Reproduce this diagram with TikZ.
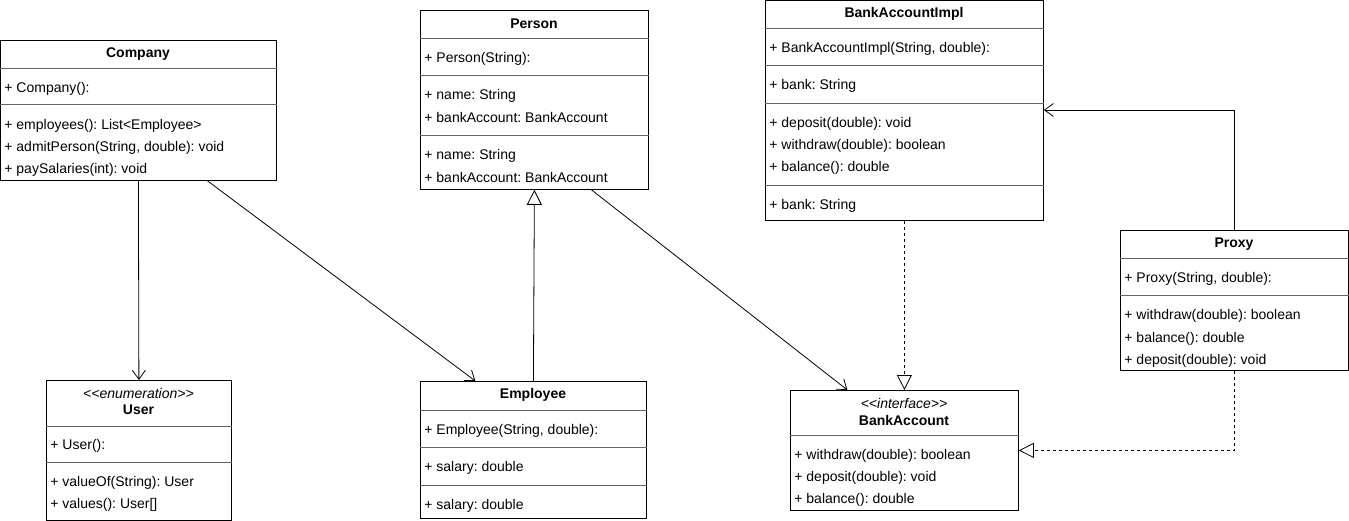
\documentclass[tikz,border=0pt]{standalone}
\usepackage{fontspec}
\setmainfont{Liberation Sans}[Ligatures=TeXOff]
\usetikzlibrary{arrows.meta,positioning}
\frenchspacing

\begin{document}
\begin{tikzpicture}[x=1pt,y=-1pt,font=\fontsize{14}{16}\selectfont,line width=0.8pt,
cls/.style={draw,anchor=north west,inner sep=0pt},
ttl/.style={font=\fontsize{14}{16}\selectfont\bfseries,inner sep=0pt,yshift=-1pt},
stereo/.style={font=\fontsize{14}{16}\selectfont\itshape,inner sep=0pt,yshift=-1pt},
row/.style={anchor=west,inner sep=0pt,yshift=-1.5pt},
sep/.style={draw=black!60},
assoc/.style={-{Straight Barb[length=9pt,width=13pt]}},
gen/.style={-{Triangle[open,length=15pt,width=15pt]}},
real/.style={gen,dashed}]
\useasboundingbox (0,0) rectangle (1349,521);
% class boxes
\node[cls,minimum width=276pt,minimum height=140pt] (company) at (0,40) {};
\node[cls,minimum width=228pt,minimum height=179pt] (person) at (420,10) {};
\node[cls,minimum width=278pt,minimum height=220pt] (impl) at (765,0) {};
\node[cls,minimum width=228pt,minimum height=140pt] (proxy) at (1120,230) {};
\node[cls,minimum width=185pt,minimum height=140pt] (user) at (46,380) {};
\node[cls,minimum width=226pt,minimum height=137pt] (employee) at (420,381) {};
\node[cls,minimum width=228pt,minimum height=120pt] (bankaccount) at (790,390) {};
% separators
\foreach \y in {68,104} \draw[sep] (company.west |- 0,\y) -- (company.east |- 0,\y);
\foreach \y in {38,75,135} \draw[sep] (person.west |- 0,\y) -- (person.east |- 0,\y);
\foreach \y in {28,65,103,185} \draw[sep] (impl.west |- 0,\y) -- (impl.east |- 0,\y);
\foreach \y in {258,295} \draw[sep] (proxy.west |- 0,\y) -- (proxy.east |- 0,\y);
\foreach \y in {426,462} \draw[sep] (user.west |- 0,\y) -- (user.east |- 0,\y);
\foreach \y in {410,447,485} \draw[sep] (employee.west |- 0,\y) -- (employee.east |- 0,\y);
\draw[sep] (bankaccount.west |- 0,435) -- (bankaccount.east |- 0,435);
% Company
\node[ttl] (companyT) at (138,53) {Company};
\node[row] (companyC) at (4,87) {+ Company():};
\node[row] (companyM1) at (4,124) {+ employees(): List<Employee>};
\node[row] (companyM2) at (4,146) {+ admitPerson(String, double): void};
\node[row] (companyM3) at (4,168) {+ paySalaries(int): void};
% Person
\node[ttl] (personT) at (534,23) {Person};
\node[row] (personC) at (424,57) {+ Person(String):};
\node[row] (personF1) at (424,94) {+ name: String};
\node[row] (personF2) at (424,116) {+ bankAccount: BankAccount};
\node[row] (personM1) at (424,154) {+ name: String};
\node[row] (personM2) at (424,176) {+ bankAccount: BankAccount};
% BankAccountImpl
\node[ttl] (implT) at (904,13) {BankAccountImpl};
\node[row] (implC) at (769,47) {+ BankAccountImpl(String, double):};
\node[row] (implF) at (769,84) {+ bank: String};
\node[row] (implM1) at (769,122) {+ deposit(double): void};
\node[row] (implM2) at (769,144) {+ withdraw(double): boolean};
\node[row] (implM3) at (769,166) {+ balance(): double};
\node[row] (implP) at (769,204) {+ bank: String};
% Proxy
\node[ttl] (proxyT) at (1234,243) {Proxy};
\node[row] (proxyC) at (1124,277) {+ Proxy(String, double):};
\node[row] (proxyM1) at (1124,314) {+ withdraw(double): boolean};
\node[row] (proxyM2) at (1124,337) {+ balance(): double};
\node[row] (proxyM3) at (1124,359) {+ deposit(double): void};
% User
\node[stereo] (userS) at (138.5,392) {<<enumeration>>};
\node[ttl] (userT) at (138.5,409) {User};
\node[row] (userC) at (50,444) {+ User():};
\node[row] (userM1) at (50,481) {+ valueOf(String): User};
\node[row] (userM2) at (50,503) {+ values(): User[]};
% Employee
\node[ttl] (employeeT) at (533,394) {Employee};
\node[row] (employeeC) at (424,429) {+ Employee(String, double):};
\node[row] (employeeF) at (424,466) {+ salary: double};
\node[row] (employeeM) at (424,504) {+ salary: double};
% BankAccount
\node[stereo] (bankaccountS) at (904,402) {<<interface>>};
\node[ttl] (bankaccountT) at (904,419) {BankAccount};
\node[row] (bankaccountM1) at (794,454) {+ withdraw(double): boolean};
\node[row] (bankaccountM2) at (794,476) {+ deposit(double): void};
\node[row] (bankaccountM3) at (794,498) {+ balance(): double};
% relations
\draw[assoc] (company.south) -- (user.north);
\draw[assoc] ([xshift=69pt]company.south) -- ([xshift=-58pt]employee.north);
\draw[gen] (employee.north) -- (person.south);
\draw[assoc] ([xshift=57pt]person.south) -- ([xshift=-57pt]bankaccount.north);
\draw[real] (impl.south) -- (bankaccount.north);
\draw[assoc] (proxy.north) |- ([yshift=-110pt]impl.north east);
\draw[real] (proxy.south) |- (bankaccount.east);
\end{tikzpicture}
\end{document}
